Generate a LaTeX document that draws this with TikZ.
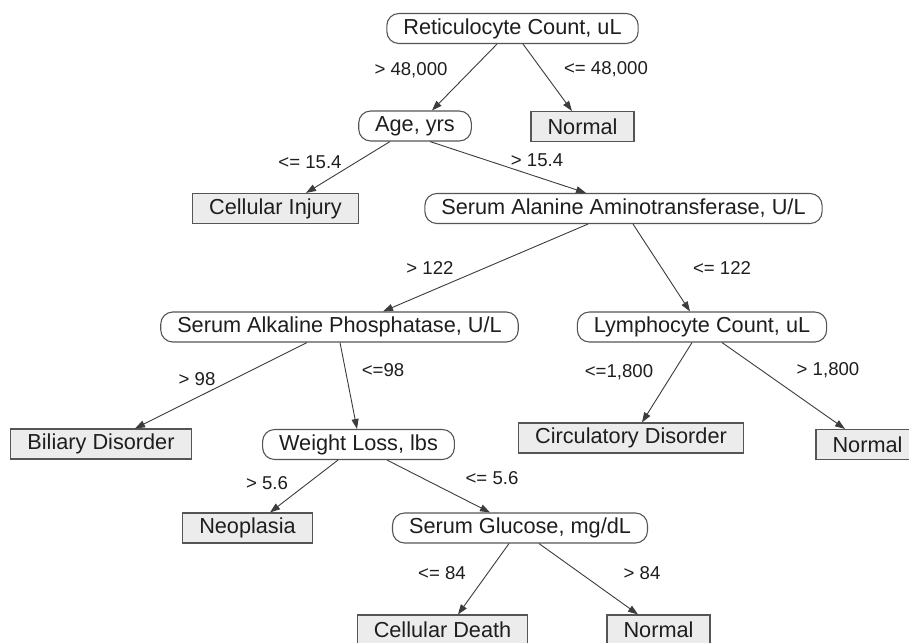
\documentclass[tikz,border=0pt]{standalone}
\usepackage{fontspec}
\setmainfont{Liberation Sans}
\usetikzlibrary{arrows.meta}
\definecolor{linegray}{HTML}{3C3C3C}
\definecolor{boxgray}{HTML}{555555}
\definecolor{leaffill}{HTML}{ECECEC}
\definecolor{txt}{HTML}{1E1E1E}
\begin{document}
\begin{tikzpicture}[x=1pt,y=-1pt,
  decision/.style={draw=boxgray, line width=1.1pt, fill=white, rounded corners=12pt,
    minimum height=30pt, inner xsep=16.5pt, inner ysep=0pt, text=txt,
    font=\fontsize{21.7}{24}\selectfont},
  leaf/.style={draw=boxgray, line width=1.1pt, fill=leaffill,
    minimum height=30pt, inner xsep=16.5pt, inner ysep=0pt, text=txt,
    font=\fontsize{21.7}{24}\selectfont},
  edge/.style={draw=linegray, line width=0.9pt, -{Triangle[length=10pt,width=7pt]}},
  cond/.style={text=txt, inner sep=0pt, font=\fontsize{18.6}{20}\selectfont}]
\useasboundingbox (0,0) rectangle (909,642);
\fill[white] (0,0) rectangle (909,642);

% nodes
\node[decision] (ret) at (512.5,28.5) {Reticulocyte Count, uL};
\node[decision] (age) at (415,126) {Age, yrs};
\node[leaf] (norm1) at (582.5,126.5) {Normal};
\node[leaf] (ci) at (275.5,208.5) {Cellular Injury};
\node[decision] (saat) at (623.5,208.5) {Serum Alanine Aminotransferase, U/L};
\node[decision] (sap) at (339.5,327) {Serum Alkaline Phosphatase, U/L};
\node[decision] (lym) at (702,327) {Lymphocyte Count, uL};
\node[leaf] (bil) at (101,444) {Biliary Disorder};
\node[decision] (wl) at (358.5,444.5) {Weight Loss, lbs};
\node[leaf] (circ) at (631,438) {Circulatory Disorder};
\node[leaf] (norm2) at (867.5,444.5) {Normal};
\node[leaf] (neo) at (247.5,528) {Neoplasia};
\node[decision] (sg) at (520,528) {Serum Glucose, mg/dL};
\node[leaf] (cd) at (442.5,630) {Cellular Death};
\node[leaf] (norm3) at (658.5,630) {Normal};

% edges
\draw[edge] ([xshift=-15.5pt]ret.south) -- ([xshift=17pt]age.north);
\draw[edge] ([xshift=10.5pt]ret.south) -- ([xshift=-10.5pt]norm1.north);
\draw[edge] ([xshift=-25pt]age.south) -- ([xshift=30.5pt]ci.north);
\draw[edge] ([xshift=15pt]age.south) -- ([xshift=-37.5pt]saat.north);
\draw[edge] ([xshift=-35.5pt]saat.south) -- ([xshift=43.5pt]sap.north);
\draw[edge] ([xshift=9.5pt]saat.south) -- ([xshift=-12pt]lym.north);
\draw[edge] ([xshift=-32.5pt]sap.south) -- ([xshift=34pt]bil.north);
\draw[edge] ([xshift=0.5pt]sap.south) -- ([xshift=-1.5pt]wl.north);
\draw[edge] ([xshift=-10pt]lym.south) -- ([xshift=11pt]circ.north);
\draw[edge] ([xshift=20pt]lym.south) -- ([xshift=-22.5pt]norm2.north);
\draw[edge] ([xshift=-20.5pt]wl.south) -- ([xshift=22.5pt]neo.north);
\draw[edge] ([xshift=28.5pt]wl.south) -- ([xshift=-30pt]sg.north);
\draw[edge] ([xshift=-11pt]sg.south) -- ([xshift=15.5pt]cd.north);
\draw[edge] ([xshift=19pt]sg.south) -- ([xshift=-20.5pt]norm3.north);

% condition labels
\node[cond] (l1) at (411,70) {> 48,000};
\node[cond] (l2) at (606,69) {<= 48,000};
\node[cond] (l3) at (310,162) {<= 15.4};
\node[cond] (l4) at (537,160) {> 15.4};
\node[cond] (l5) at (430,268) {> 122};
\node[cond] (l6) at (722,268) {<= 122};
\node[cond] (l7) at (197,379) {> 98};
\node[cond] (l8) at (383,370) {<=98};
\node[cond] (l9) at (619,372) {<=1,800};
\node[cond] (l10) at (828,370) {> 1,800};
\node[cond] (l11) at (267,483) {> 5.6};
\node[cond] (l12) at (492,478) {<= 5.6};
\node[cond] (l13) at (442,573) {<= 84};
\node[cond] (l14) at (642,573) {> 84};
\end{tikzpicture}
\end{document}
